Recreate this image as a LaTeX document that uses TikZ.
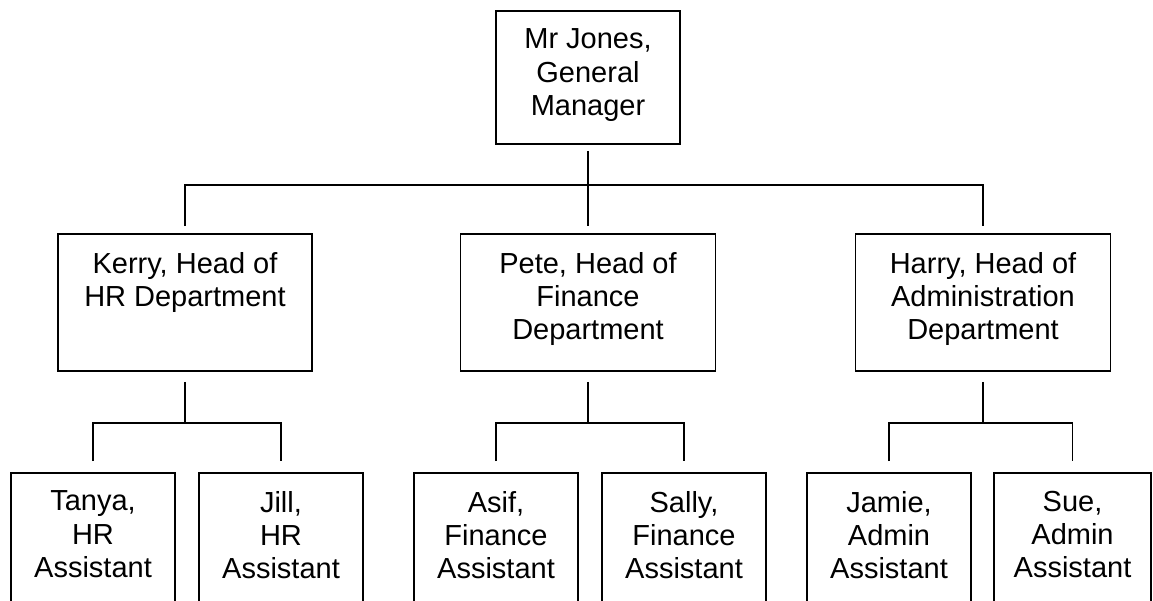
\documentclass[tikz,border=0pt]{standalone}
\usepackage{fontspec}
\setmainfont{Liberation Sans}

\begin{document}
\begin{tikzpicture}[x=1pt, y=-1pt, line width=1.8pt,
	post/.style={draw, inner sep=0pt},
	head/.style={post, minimum width=255pt, minimum height=137pt},
	staff/.style={post, minimum width=164pt, minimum height=167pt},
	jobtitle/.style={anchor=north, align=center, inner sep=0pt, yshift=-18pt, font=\fontsize{29}{33.3}\selectfont},
	role/.style={label={[jobtitle]north:{#1}}}]
	
	\useasboundingbox (0,0) rectangle (1153,601);
	\clip (0,0) rectangle (1153,601);
	
	\node[post, minimum width=184pt, minimum height=133pt, role={Mr Jones,\\General\\Manager}] (gm) at (588,77.5) {};
	
	\node[head, minimum width=254pt, role={Kerry, Head of\\HR Department}] (hr) at (185,302.5) {};
	\node[head, role={Pete, Head of\\Finance\\Department}] (fin) at (588,302.5) {};
	\node[head, role={Harry, Head of\\Administration\\Department}] (adm) at (983,302.5) {};
	
	\node[staff, role={Tanya,\\HR\\Assistant}] (tanya) at (93,556.5) {};
	\node[staff, role={Jill,\\HR\\Assistant}] (jill) at (281,556.5) {};
	\node[staff, role={Asif,\\Finance\\Assistant}] (asif) at (496,556.5) {};
	\node[staff, role={Sally,\\Finance\\Assistant}] (sally) at (684,556.5) {};
	\node[staff, role={Jamie,\\Admin\\Assistant}] (jamie) at (889,556.5) {};
	\node[staff, minimum width=157pt, role={Sue,\\Admin\\Assistant}] (sue) at (1072.5,556.5) {};
	
	
	\coordinate (bus) at (588,185);
	\draw[shorten <=6pt] (gm.south) -- (gm.south |- bus);
	\draw[shorten <=7pt, shorten >=7pt] (hr.north) |- (bus) -| (adm.north);
	\draw[shorten >=7pt] (fin.north |- bus) -- (fin.north);
	
	\foreach \boss/\a/\b in {hr/tanya/jill, fin/asif/sally, adm/jamie/sue} {
		\draw[shorten <=10pt] (\boss.south) -- ++(0,51) coordinate (\boss-bus);
		\draw[shorten <=11pt, shorten >=11pt] (\a.north) |- (\boss-bus) -| (\b.north);
	}
	
\end{tikzpicture}
\end{document}
